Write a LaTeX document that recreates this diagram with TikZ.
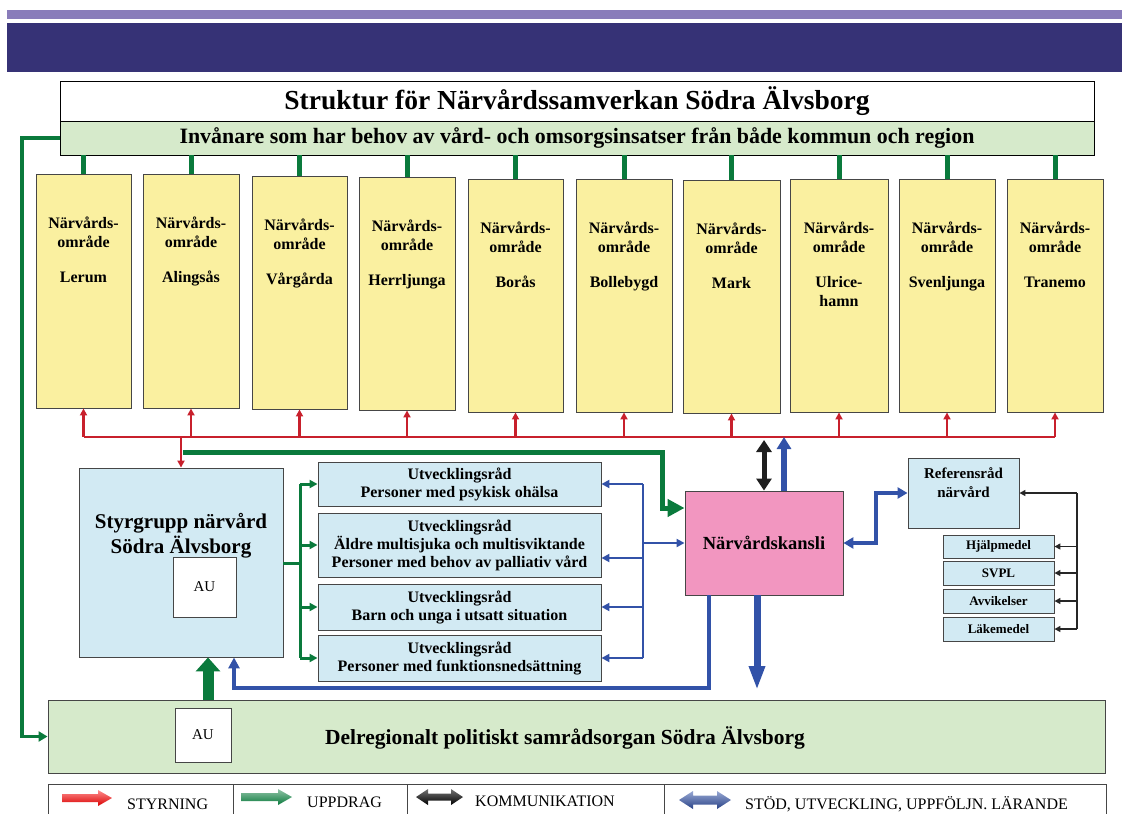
\documentclass[tikz,border=0pt]{standalone}
\usepackage{fontspec}
\setmainfont{Liberation Serif}
\usetikzlibrary{arrows.meta,calc}
\definecolor{purp}{RGB}{137,124,186}
\definecolor{navy}{RGB}{54,50,118}
\definecolor{lgreen}{RGB}{214,234,203}
\definecolor{yel}{RGB}{250,240,160}
\definecolor{lblue}{RGB}{210,234,243}
\definecolor{pinkk}{RGB}{242,150,192}
\definecolor{rline}{RGB}{200,32,44}
\definecolor{gline}{RGB}{10,122,60}
\definecolor{bline}{RGB}{50,82,168}
\definecolor{bord}{RGB}{70,70,70}
\newcommand\bx[7]{\node[#2, minimum width={(#5-#3)*1pt}, minimum height={(#6-#4)*1pt}, anchor=center] (#1) at ({(#3+#5)/2},{(#4+#6)/2}) {#7};}
\begin{document}
\begin{tikzpicture}[x=1pt,y=-1pt,
  bx/.style={draw=bord, line width=0.9pt, inner sep=0pt, align=center},
  ybox/.style={bx, fill=yel},
  ytext/.style={anchor=north, align=center, inner sep=0pt, font=\bfseries\fontsize{16}{19.5}\selectfont},
  ubox/.style={bx, fill=lblue, font=\bfseries\fontsize{16}{18}\selectfont},
  sbox/.style={bx, fill=lblue, font=\bfseries\fontsize{13}{15}\selectfont},
  gstub/.style={gline, line width=5pt},
  rl/.style={rline, line width=2.5pt},
  rarr/.style={rl, -{Triangle[width=7pt,length=7pt]}},
  gmid/.style={gline, line width=3pt},
  garr/.style={gmid, -{Triangle[width=8pt,length=8pt]}},
  bthin/.style={bline, line width=2.5pt},
  barr/.style={bthin, -{Triangle[width=8pt,length=8pt]}},
  kl/.style={black!85, line width=1.5pt},
  karr/.style={kl, -{Triangle[width=6pt,length=6pt]}},
  legtext/.style={font=\fontsize{16}{18}\selectfont, anchor=base west, inner sep=0pt}
]
\useasboundingbox (0,0) rectangle (1122,814);
\fill[purp] (7,10) rectangle (1122,19);
\fill[navy] (7,23) rectangle (1122,72);

\bx{title}{bx, draw=black, fill=white, font=\bfseries\fontsize{27.5}{30}\selectfont}{60}{81}{1094}{121}{Struktur för Närvårdssamverkan Södra Älvsborg}
\bx{inv}{bx, draw=black, fill=lgreen, font=\bfseries\fontsize{21.9}{24}\selectfont}{60}{121}{1094}{155}{Invånare som har behov av vård- och omsorgsinsatser från både kommun och region}

\foreach \i/\xa/\ya/\xb/\yb/\nm in {1/36/174/131/408/Lerum, 2/143/174/239/408/Alingsås, 3/252/176/347/409/Vårgårda, 4/359/177/455/410/Herrljunga, 5/468/179/563/412/Borås, 6/576/179/672/412/Bollebygd, 7/683/180/780/413/Mark, 8/790/179/888/412/{Ulrice-\\hamn}, 9/899/179/995/412/Svenljunga, 10/1007/179/1103/412/Tranemo}{
  \bx{y\i}{ybox}{\xa}{\ya}{\xb}{\yb}{}
  \node[ytext] (t\i) at ([yshift=-43pt]y\i.north) {Närvårds-\\område\\[15pt]\nm};
  \draw[gstub] (y\i.north |- inv.south) -- (y\i.north);
}

% red structure
\coordinate (rb) at (0,437);
\draw[rl] (y1.south |- rb) -- (y10.south |- rb);
\foreach \i in {1,...,10} \draw[rarr] (y\i.south |- rb) -- (y\i.south);

% Styrgrupp
\bx{styr}{bx, fill=lblue}{79}{468}{283}{657}{}
\node[font=\bfseries\fontsize{21}{25}\selectfont, align=center, inner sep=0pt] (styrt) at (181,536) {Styrgrupp närvård\\Södra Älvsborg};
\bx{au1}{bx, fill=white, font=\fontsize{15}{18}\selectfont}{173}{557}{236}{617}{AU}
\draw[rarr] (styr.north |- rb) -- (styr.north);

% Utvecklingsråd
\bx{u1}{ubox}{318}{462}{601}{506}{Utvecklingsråd\\Personer med psykisk ohälsa}
\bx{u2}{ubox}{318}{513}{601}{577}{Utvecklingsråd\\Äldre multisjuka och multisviktande\\Personer med behov av palliativ vård}
\bx{u3}{ubox}{318}{584}{601}{630}{Utvecklingsråd\\Barn och unga i utsatt situation}
\bx{u4}{ubox}{318}{635}{601}{681}{Utvecklingsråd\\Personer med funktionsnedsättning}

% Närvårdskansli
\bx{kan}{bx, fill=pinkk, font=\bfseries\fontsize{18.5}{22}\selectfont}{685}{491}{843}{595}{Närvårdskansli}

% Referensråd
\bx{ref}{bx, fill=lblue}{908}{458}{1019}{528}{}
\node[font=\bfseries\fontsize{15}{19}\selectfont, align=center, inner sep=0pt] (reft) at (963.5,483) {Referensråd\\närvård};
\bx{s1}{sbox}{943}{535}{1054}{558}{Hjälpmedel}
\bx{s2}{sbox}{943}{561}{1054}{585}{SVPL}
\bx{s3}{sbox}{943}{589}{1054}{613}{Avvikelser}
\bx{s4}{sbox}{943}{617}{1054}{641}{Läkemedel}

% Delregionalt
\bx{del}{bx, fill=lgreen}{48}{700}{1105}{773}{}
\node[font=\bfseries\fontsize{21.5}{24}\selectfont, inner sep=0pt] (delt) at (565,738) {Delregionalt politiskt samrådsorgan Södra Älvsborg};
\bx{au2}{bx, fill=white, font=\fontsize{15}{18}\selectfont}{175}{708}{231}{762}{AU}

% green mid: Styrgrupp -> Utvecklingsråd
\coordinate (gb) at (300,0);
\coordinate (gs) at (0,563);
\draw[gmid] (styr.east |- gs) -- (gb |- gs);
\draw[gmid] (gb |- u1.west) -- (gb |- u4.west);
\foreach \i in {1,...,4} \draw[garr] (gb |- u\i.west) -- (u\i.west);

% blue bus
\coordinate (bb) at (643,0);
\coordinate (u2a) at (0,558);
\draw[bthin] (bb |- u1.east) -- (bb |- u4.east);
\draw[barr] (bb |- u1.east) -- (u1.east);
\draw[barr] (bb |- u2a) -- (u2.east |- u2a);
\draw[barr] (bb |- u3.east) -- (u3.east);
\draw[barr] (bb |- u4.east) -- (u4.east);
\draw[barr] (bb |- kan.west) -- (kan.west);

% green thick Styrgrupp -> kansli
\coordinate (gt) at (0,452);
\coordinate (gc) at (662,0);
\coordinate (ga) at (0,508);
\draw[gline, line width=5pt, -{Triangle[width=17pt,length=17pt]}] ([xshift=2pt]styr.north |- gt) -- (gc |- gt) -- (gc |- ga) -- (kan.west |- ga);

% black double arrow and blue up arrow
\draw[black!88, line width=5pt, {Triangle[width=15pt,length=12pt]}-{Triangle[width=15pt,length=12pt]}] ([yshift=-3pt]kan.north |- rb) -- (kan.north);
\coordinate (bu) at (784,0);
\draw[bline, line width=6pt, -{Triangle[width=14pt,length=12pt]}] (bu |- kan.north) -- (bu |- rb);

% blue down arrow
\coordinate (bd) at (757,0);
\coordinate (bot) at (0,690);
\draw[bline, line width=7pt, -{Triangle[width=15pt,length=24pt]}] (bd |- kan.south) -- (bd |- bot);

% blue return to Styrgrupp
\coordinate (br) at (709,0);
\coordinate (bh) at (0,688);
\coordinate (bs) at (234,0);
\draw[bline, line width=3.5pt, -{Triangle[width=11pt,length=11pt]}] (br |- kan.south) -- (br |- bh) -- (bs |- bh) -- (bs |- styr.south);

% green thick up Delregionalt -> Styrgrupp
\coordinate (gu) at (208,0);
\draw[gline, line width=11pt, -{Triangle[width=24pt,length=14pt]}] (gu |- del.north) -- (gu |- styr.south);

% green left line Invånare -> Delregionalt
\coordinate (gl) at (22,0);
\draw[gline, line width=3.5pt, -{Triangle[width=10pt,length=9pt]}] (inv.west) -- (gl |- inv.west) -- (gl |- del.west) -- (del.west);

% kansli <-> Referensråd
\coordinate (kr) at (876,0);
\draw[bline, line width=3.5pt, {Triangle[width=11pt,length=10pt]}-{Triangle[width=11pt,length=10pt]}] (kan.east) -- (kr |- kan.east) -- (kr |- ref.west) -- (ref.west);

% black bracket
\coordinate (bk) at (1077,0);
\draw[kl] (bk |- ref.east) -- (bk |- s4.east);
\draw[karr] (bk |- ref.east) -- (ref.east);
\foreach \i in {1,...,4} \draw[karr] (bk |- s\i.east) -- (s\i.east);

% legend
\draw[bord, line width=0.9pt] (48,816) -- (48,784) -- (1106,784) -- (1106,816);
\foreach \x in {233,407,664} \draw[bord, line width=0.9pt] (\x,784) -- (\x,816);
\shade[top color=red!45!white, bottom color=red!85!black] (62,794) -- (98,794) -- (98,790) -- (112,798) -- (98,806) -- (98,802) -- (62,802) -- cycle;
\shade[top color=gline!45!white, bottom color=gline] (241,793) -- (278,793) -- (278,789) -- (292,797) -- (278,805) -- (278,801) -- (241,801) -- cycle;
\shade[top color=black!55, bottom color=black] (416,797) -- (428,789) -- (428,793.5) -- (451,793.5) -- (451,789) -- (463,797) -- (451,805) -- (451,800.5) -- (428,800.5) -- (428,805) -- cycle;
\shade[top color=bline!50!white, bottom color=bline!80!black] (679,800) -- (693,791) -- (693,795.5) -- (717,795.5) -- (717,791) -- (731,800) -- (717,809) -- (717,804.5) -- (693,804.5) -- (693,809) -- cycle;
\node[legtext] (l1) at (127,809) {STYRNING};
\node[legtext] (l2) at (307,807) {UPPDRAG};
\node[legtext] (l3) at (475,806) {KOMMUNIKATION};
\node[legtext] (l4) at (745,809) {STÖD, UTVECKLING, UPPFÖLJN. LÄRANDE};
\end{tikzpicture}
\end{document}
